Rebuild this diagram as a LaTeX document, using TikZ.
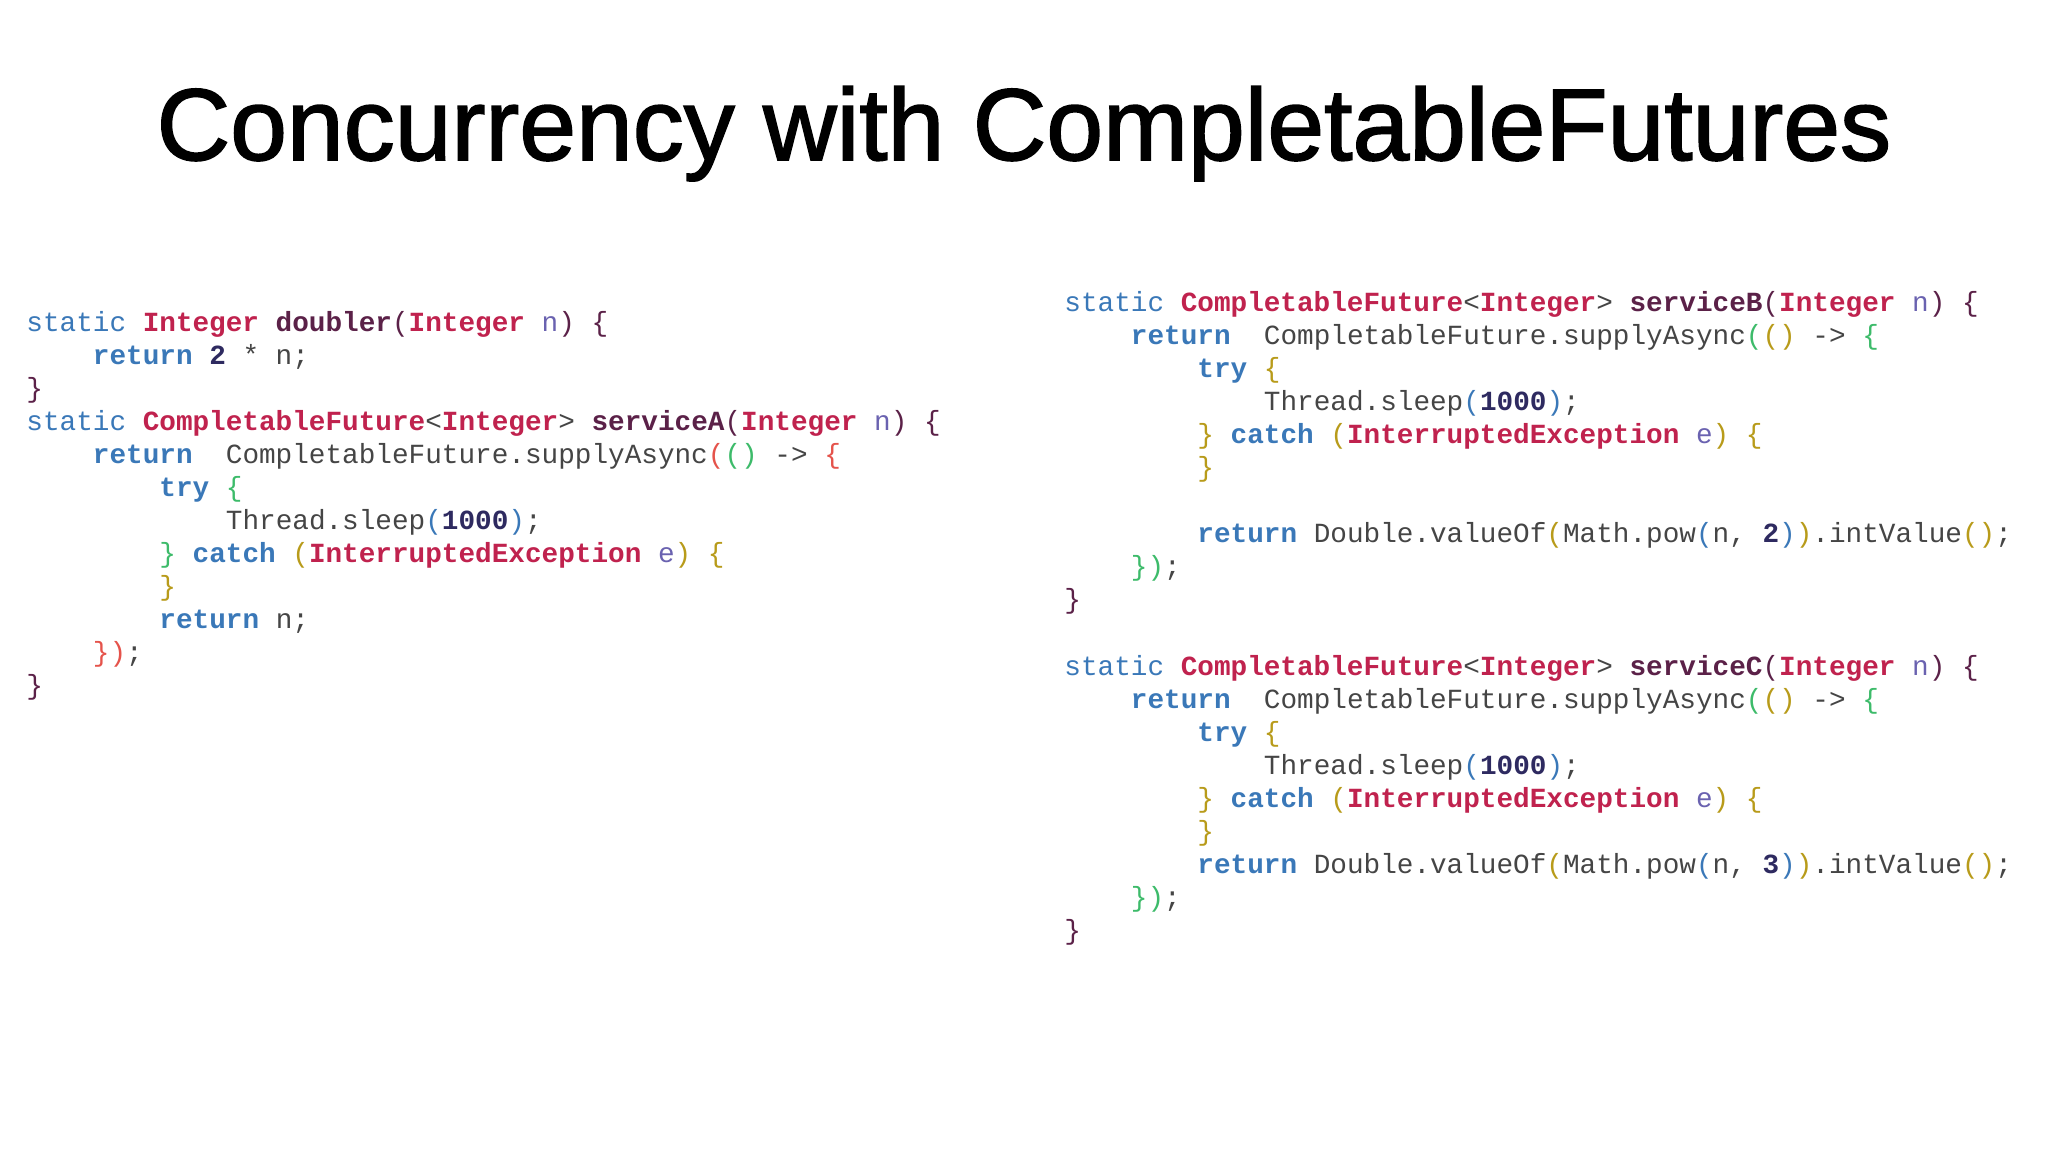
\documentclass[tikz,border=0pt]{standalone}
\usepackage{fontspec}
\setmainfont{Liberation Sans}
\setmonofont{Liberation Mono}
\newfontfamily\titlefont[FakeBold=1.6]{Liberation Sans}
\definecolor{kw}{HTML}{3A78B8}
\definecolor{ty}{HTML}{C0224E}
\definecolor{fn}{HTML}{5B2148}
\definecolor{vr}{HTML}{6A62B0}
\definecolor{nm}{HTML}{2E2A60}
\definecolor{pl}{HTML}{454545}
\definecolor{bg}{HTML}{3DBB6A}
\definecolor{bo}{HTML}{B89B1A}
\definecolor{br}{HTML}{E5534B}
\definecolor{bb}{HTML}{3A78B8}
\newcommand\Kw[1]{\textcolor{kw}{\bfseries #1}}
\newcommand\Ks[1]{\textcolor{kw}{#1}}
\newcommand\Ty[1]{\textcolor{ty}{\bfseries #1}}
\newcommand\Fn[1]{\textcolor{fn}{\bfseries #1}}
\newcommand\Vr[1]{\textcolor{vr}{#1}}
\newcommand\Nm[1]{\textcolor{nm}{\bfseries #1}}
\newcommand\Cc[2]{\textcolor{#1}{#2}}
\begin{document}
\begin{tikzpicture}[x=0.5pt,y=-0.5pt,
  code/.style={anchor=base west,inner sep=0pt,font=\ttfamily\fontsize{13.85pt}{16pt}\selectfont,text=pl}]
\useasboundingbox[fill=white] (0,0) rectangle (2048,1152);
\node[font=\titlefont\fontsize{51pt}{56pt}\selectfont,anchor=base] (title) at (1024,160) {Concurrency with CompletableFutures};
% left column
\def\lx{26}\def\ind{66.5}
\node[code] (l1) at (\lx,331) {\Ks{static} \Ty{Integer} \Fn{doubler}\Cc{fn}{(}\Ty{Integer} \Vr{n}\Cc{fn}{)} \Cc{fn}{\{}};
\node[code] (l2) at (\lx+\ind,364) {\Kw{return} \Nm{2} * n;};
\node[code] (l3) at (\lx,397) {\Cc{fn}{\}}};
\node[code] (l4) at (\lx,430) {\Ks{static} \Ty{CompletableFuture}<\Ty{Integer}> \Fn{serviceA}\Cc{fn}{(}\Ty{Integer} \Vr{n}\Cc{fn}{)} \Cc{fn}{\{}};
\node[code] (l5) at (\lx+\ind,463) {\Kw{return}\ \ CompletableFuture.supplyAsync\Cc{br}{(}\Cc{bg}{()} -> \Cc{br}{\{}};
\node[code] (l6) at (\lx+2*\ind,496) {\Kw{try} \Cc{bg}{\{}};
\node[code] (l7) at (\lx+3*\ind,529) {Thread.sleep\Cc{bb}{(}\Nm{1000}\Cc{bb}{)};};
\node[code] (l8) at (\lx+2*\ind,562) {\Cc{bg}{\}} \Kw{catch} \Cc{bo}{(}\Ty{InterruptedException} \Vr{e}\Cc{bo}{)} \Cc{bo}{\{}};
\node[code] (l9) at (\lx+2*\ind,595) {\Cc{bo}{\}}};
\node[code] (l10) at (\lx+2*\ind,628) {\Kw{return} n;};
\node[code] (l11) at (\lx+\ind,661) {\Cc{br}{\})};};
\node[code] (l12) at (\lx,694) {\Cc{fn}{\}}};
% right column
\def\rx{1064}
\node[code] (b1) at (\rx,311) {\Ks{static} \Ty{CompletableFuture}<\Ty{Integer}> \Fn{serviceB}\Cc{fn}{(}\Ty{Integer} \Vr{n}\Cc{fn}{)} \Cc{fn}{\{}};
\node[code] (b2) at (\rx+\ind,344) {\Kw{return}\ \ CompletableFuture.supplyAsync\Cc{bg}{(}\Cc{bo}{()} -> \Cc{bg}{\{}};
\node[code] (b3) at (\rx+2*\ind,377) {\Kw{try} \Cc{bo}{\{}};
\node[code] (b4) at (\rx+3*\ind,410) {Thread.sleep\Cc{bb}{(}\Nm{1000}\Cc{bb}{)};};
\node[code] (b5) at (\rx+2*\ind,443) {\Cc{bo}{\}} \Kw{catch} \Cc{bo}{(}\Ty{InterruptedException} \Vr{e}\Cc{bo}{)} \Cc{bo}{\{}};
\node[code] (b6) at (\rx+2*\ind,476) {\Cc{bo}{\}}};
\node[code] (b7) at (\rx+2*\ind,542) {\Kw{return} Double.valueOf\Cc{bo}{(}Math.pow\Cc{bb}{(}n, \Nm{2}\Cc{bb}{)}\Cc{bo}{)}.intValue\Cc{bo}{()};};
\node[code] (b8) at (\rx+\ind,575) {\Cc{bg}{\})};};
\node[code] (b9) at (\rx,608) {\Cc{fn}{\}}};
\node[code] (c1) at (\rx,675) {\Ks{static} \Ty{CompletableFuture}<\Ty{Integer}> \Fn{serviceC}\Cc{fn}{(}\Ty{Integer} \Vr{n}\Cc{fn}{)} \Cc{fn}{\{}};
\node[code] (c2) at (\rx+\ind,708) {\Kw{return}\ \ CompletableFuture.supplyAsync\Cc{bg}{(}\Cc{bo}{()} -> \Cc{bg}{\{}};
\node[code] (c3) at (\rx+2*\ind,741) {\Kw{try} \Cc{bo}{\{}};
\node[code] (c4) at (\rx+3*\ind,774) {Thread.sleep\Cc{bb}{(}\Nm{1000}\Cc{bb}{)};};
\node[code] (c5) at (\rx+2*\ind,807) {\Cc{bo}{\}} \Kw{catch} \Cc{bo}{(}\Ty{InterruptedException} \Vr{e}\Cc{bo}{)} \Cc{bo}{\{}};
\node[code] (c6) at (\rx+2*\ind,840) {\Cc{bo}{\}}};
\node[code] (c7) at (\rx+2*\ind,873) {\Kw{return} Double.valueOf\Cc{bo}{(}Math.pow\Cc{bb}{(}n, \Nm{3}\Cc{bb}{)}\Cc{bo}{)}.intValue\Cc{bo}{()};};
\node[code] (c8) at (\rx+\ind,906) {\Cc{bg}{\})};};
\node[code] (c9) at (\rx,939) {\Cc{fn}{\}}};
\end{tikzpicture}
\end{document}
